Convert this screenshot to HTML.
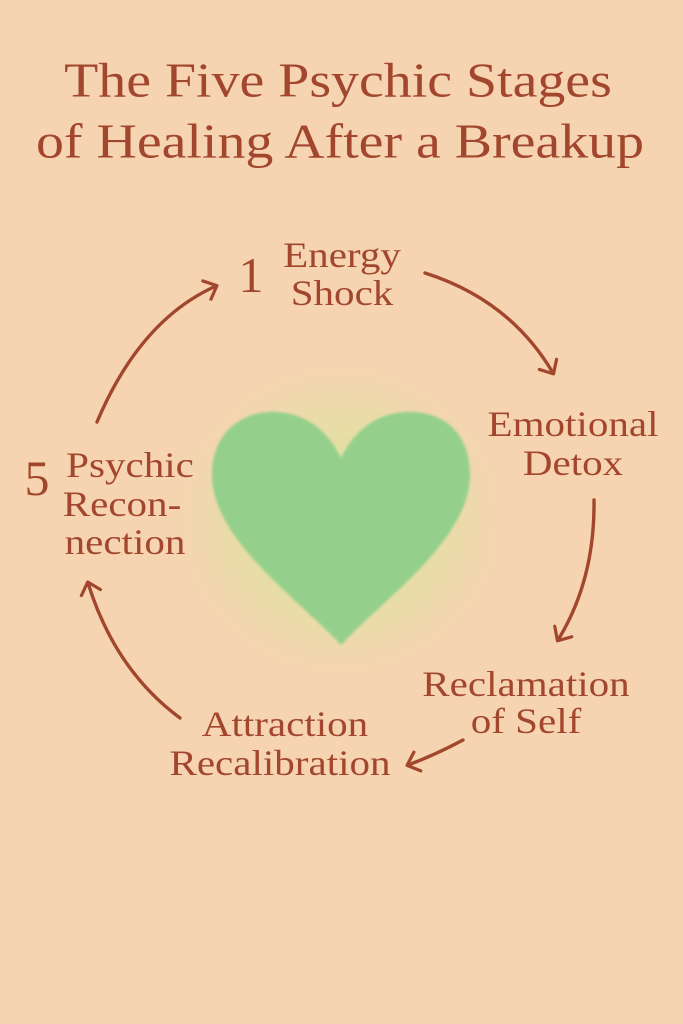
<!DOCTYPE html>
<html><head><meta charset="utf-8"><style>
html,body{margin:0;padding:0}
body{width:683px;height:1024px;background:#f6d4b2;position:relative;overflow:hidden;font-family:"Liberation Serif","DejaVu Serif",serif;color:#a2472d}
.t{position:absolute;white-space:nowrap;text-align:center;line-height:1}
.h{font-size:49px;transform:translate(-50%,-50%) scaleX(1.14)}
.l{font-size:36px;transform:translate(-50%,-50%) scaleX(1.14)}
.n{font-size:50px;transform:translate(-50%,-50%)}
</style></head><body>
<svg width="683" height="1024" style="position:absolute;left:0;top:0">
<defs>
<radialGradient id="g" cx="50%" cy="50%" r="50%">
<stop offset="0" stop-color="#d6e49a" stop-opacity="1"/>
<stop offset="0.6" stop-color="#e2e0a2" stop-opacity="0.6"/>
<stop offset="1" stop-color="#f6d4b2" stop-opacity="0"/>
</radialGradient>
<filter id="b"><feGaussianBlur stdDeviation="1.2"/></filter>
<marker id="a" markerWidth="20" markerHeight="24" refX="12" refY="12" orient="auto" markerUnits="userSpaceOnUse">
<path d="M2,2 L13,12 L2,22" fill="none" stroke="#a2472d" stroke-width="3.2" stroke-linecap="round" stroke-linejoin="round"/>
</marker>
</defs>
<ellipse cx="340" cy="520" rx="190" ry="180" fill="url(#g)"/>
<path filter="url(#b)" fill="#94d08b" d="M341,645 C300,600 212,540 212,475 C212,430 245,410 277,412 C310,414 330,435 341,458 C352,435 372,414 405,412 C440,410 470,430 470,475 C470,540 382,600 341,645 Z"/>
<g fill="none" stroke="#a2472d" stroke-width="3.4" stroke-linecap="round">
<path d="M425,273 Q510,300 553,373" marker-end="url(#a)"/>
<path d="M594,500 Q595,580 558,640" marker-end="url(#a)"/>
<path d="M463,740 Q435,755 408,765" marker-end="url(#a)"/>
<path d="M180,718 Q115,670 88,583" marker-end="url(#a)"/>
<path d="M97,422 Q140,320 216,286" marker-end="url(#a)"/>
</g>
</svg>
<div class="t h" style="left:338px;top:80px">The Five Psychic Stages</div>
<div class="t h" style="left:340px;top:141px">of Healing After a Breakup</div>
<div class="t n" style="left:251px;top:275px">1</div>
<div class="t l" style="left:342px;top:255px">Energy</div>
<div class="t l" style="left:342px;top:293px">Shock</div>
<div class="t l" style="left:573px;top:424px">Emotional</div>
<div class="t l" style="left:573px;top:463px">Detox</div>
<div class="t l" style="left:526px;top:684px">Reclamation</div>
<div class="t l" style="left:526px;top:721px">of Self</div>
<div class="t l" style="left:285px;top:724px">Attraction</div>
<div class="t l" style="left:280px;top:763px">Recalibration</div>
<div class="t n" style="left:37px;top:478px">5</div>
<div class="t l" style="left:130px;top:465px">Psychic</div>
<div class="t l" style="left:122px;top:504px">Recon-</div>
<div class="t l" style="left:125px;top:542px">nection</div>
</body></html>
